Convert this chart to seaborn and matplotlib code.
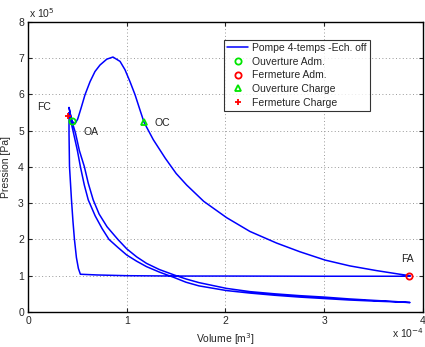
import matplotlib
matplotlib.use("Agg")
import matplotlib.pyplot as plt
import numpy as np
import pandas as pd
import seaborn as sns

# cycle path, volume in 1e-4 m3, pressure in 1e5 Pa
# compression from FA, over the peak, down to OA and up to the spike
comp_v = [3.87, 3.767, 3.531, 3.26, 3.01, 2.754, 2.518, 2.248, 2.012, 1.78, 1.607, 1.5,
          1.39, 1.269, 1.175, 1.134, 1.084, 1.033, 0.982, 0.932, 0.86, 0.797, 0.729,
          0.678, 0.628, 0.577, 0.537, 0.503, 0.476, 0.446, 0.43, 0.415]
comp_p = [1.0, 1.04, 1.14, 1.27, 1.43, 1.66, 1.9, 2.22, 2.6, 3.05, 3.5, 3.82,
          4.24, 4.75, 5.23, 5.57, 5.99, 6.35, 6.68, 6.91, 7.03, 6.97, 6.81,
          6.63, 6.35, 5.99, 5.62, 5.32, 5.19, 5.26, 5.43, 5.64]
# expansion out (upper branch)
exp_v = [0.44, 0.48, 0.52, 0.57, 0.61, 0.66, 0.72, 0.8, 0.91, 1.0, 1.1, 1.2, 1.33, 1.48,
         1.6, 1.73, 2.01, 2.25, 2.5, 2.75, 3.0, 3.25, 3.5, 3.7, 3.87]
exp_p = [5.3, 4.94, 4.45, 4.01, 3.55, 3.09, 2.7, 2.35, 2.0, 1.74, 1.52, 1.34, 1.17, 1.02,
         0.91, 0.81, 0.65, 0.56, 0.5, 0.45, 0.41, 0.36, 0.32, 0.29, 0.26]
# back (lower branch)
back_v = [3.7, 3.5, 3.25, 3.0, 2.75, 2.5, 2.25, 2.01, 1.73, 1.6, 1.48, 1.33, 1.2, 1.1, 1.0,
          0.91, 0.82, 0.75, 0.68, 0.61, 0.57, 0.53, 0.5, 0.46, 0.43, 0.415]
back_p = [0.28, 0.3, 0.33, 0.37, 0.41, 0.46, 0.52, 0.59, 0.72, 0.82, 0.95, 1.1, 1.25, 1.4,
          1.57, 1.78, 2.0, 2.3, 2.65, 3.09, 3.5, 4.01, 4.45, 4.94, 5.3, 5.5]
# steep drop then intake line back to FA
drop_v = [0.415, 0.42, 0.43, 0.44, 0.455, 0.47, 0.49, 0.51, 0.53, 0.7, 1.0, 1.5, 2.0, 3.0, 3.87]
drop_p = [4.94, 4.01, 3.55, 3.09, 2.5, 2.0, 1.5, 1.2, 1.04, 1.02, 1.0, 0.99, 0.99, 0.985, 0.985]

events = ["Ouverture Adm.", "Fermeture Adm.", "Ouverture Charge", "Fermeture Charge"]
ev_v = [0.446, 3.856, 1.175, 0.405]
ev_p = [5.26, 1.0, 5.23, 5.41]
ev_tag = ["OA", "FA", "OC", "FC"]
tag_v = [0.56, 3.78, 1.28, 0.09]
tag_p = [4.97, 1.45, 5.22, 5.64]

vol = comp_v + exp_v + back_v + drop_v
pres = comp_p + exp_p + back_p + drop_p
df = pd.DataFrame({"V": vol, "P": pres, "step": np.arange(len(vol))})

sns.set_style("ticks")
plt.rcParams["font.family"] = ["Liberation Sans", "DejaVu Sans"]
fs = 7.5

fig = plt.figure(figsize=(4.25, 3.47), dpi=100)
ax = fig.add_axes([0.066, 0.101, 0.929, 0.836])

sns.lineplot(data=df, x="V", y="P", sort=False, estimator=None, color=(0, 0, 1),
             lw=1.1, ax=ax, label="Pompe 4-temps -Ech. off")

styles = [("o", (0, 0.9, 0)), ("o", (1, 0, 0)), ("^", (0, 0.9, 0)), ("+", (1, 0, 0))]
for i, name in enumerate(events):
    m, c = styles[i]
    ax.plot(ev_v[i], ev_p[i], m, ms=4.5, mew=1.3, mfc="none", mec=c, label=name, ls="none")
    ax.text(tag_v[i], tag_p[i], ev_tag[i], fontsize=fs, ha="left", va="center", color="#222222")

ax.set_xlim(0, 4)
ax.set_ylim(0, 8)
ax.set_xticks([0, 1, 2, 3, 4])
ax.set_yticks(range(9))
ax.grid(True, ls=(0, (1, 2.5)), color="#999999", lw=0.7)
ax.tick_params(direction="in", top=True, right=True, labelsize=fs, length=3, width=0.8, pad=3)
for s in ax.spines.values():
    s.set_linewidth(1.0)
    s.set_color("black")

ax.set_xlabel("Volume [m$^3$]", fontsize=fs, labelpad=4)
ax.set_ylabel("Pression [Pa]", fontsize=fs, labelpad=5)
fig.text(0.068, 0.948, "x 10$^{5}$", fontsize=fs, ha="left", va="baseline")
fig.text(0.922, 0.026, "x 10$^{-4}$", fontsize=fs, ha="left", va="baseline")

leg = ax.legend(loc="upper right", bbox_to_anchor=(0.866, 0.938), fontsize=fs, frameon=True,
                fancybox=False, handlelength=2.0, borderpad=0.3, labelspacing=0.35,
                handletextpad=0.4, borderaxespad=0)
leg.get_frame().set_edgecolor("black")
leg.get_frame().set_linewidth(0.8)

fig.savefig("out.png", dpi=100)
